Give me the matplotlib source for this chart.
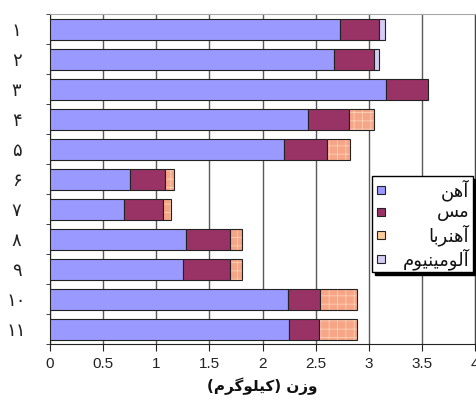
import numpy as np
import matplotlib.pyplot as plt
from matplotlib.patches import Rectangle

plt.rcParams['font.family'] = ['Liberation Sans', 'DejaVu Sans']
plt.rcParams['hatch.linewidth'] = 0.6

# وزن اجزای هر نمونه (کیلوگرم) - آهن، مس، آهنربا، آلومینیوم
samples = ['\u06F1', '\u06F2', '\u06F3', '\u06F4', '\u06F5', '\u06F6',
           '\u06F7', '\u06F8', '\u06F9', '\u06F1\u06F0', '\u06F1\u06F1']
iron = [2.73, 2.67, 3.16, 2.43, 2.20, 0.75, 0.70, 1.28, 1.25, 2.24, 2.25]
copper = [0.37, 0.38, 0.40, 0.38, 0.41, 0.33, 0.36, 0.41, 0.44, 0.30, 0.28]
magnet = [0.00, 0.00, 0.00, 0.24, 0.21, 0.09, 0.08, 0.12, 0.12, 0.35, 0.36]
alum = [0.05, 0.05, 0.00, 0.00, 0.00, 0.00, 0.00, 0.00, 0.00, 0.00, 0.00]

# persian labels, pre-shaped (presentation forms, visual order)
lbl_iron = '\uFEE6\uFEEB\uFE81'
lbl_copper = '\uFEB2\uFEE3'
lbl_magnet = '\uFE8E\uFE91\uFEAE\uFEE8\uFEEB\uFE81'
lbl_alum = '\uFEE1\uFEEE\uFEF4\uFEE8\uFEF4\uFEE3\uFEEE\uFEDF\uFE81'
xlabel = '(\uFEE1\uFEAE\uFB94\uFEEE\uFEE0\uFEF4\uFB90) \uFEE5\uFEAF\uFEED'
xticks = np.arange(0, 4.01, 0.5)

c_iron, c_cu, c_mag, c_al = '#9999FF', '#993366', '#F6A686', '#D4CCF2'
edge = '#222222'

fig = plt.figure(figsize=(4.76, 4.05), dpi=100)
ax = fig.add_axes([50/476, 1-344/405, 425/476, 330/405])

y = np.arange(len(samples))
h = 0.7
left = np.zeros(len(samples))
ax.barh(y, iron, h, left=left, color=c_iron, edgecolor=edge, lw=0.8, zorder=3)
left += iron
ax.barh(y, copper, h, left=left, color=c_cu, edgecolor=edge, lw=0.8, zorder=3)
left += copper
m = np.array(magnet) > 0
ax.barh(y[m], np.array(magnet)[m], h, left=left[m], color=c_mag,
        edgecolor='#FBD0B8', lw=0, hatch='++', zorder=3)
ax.barh(y[m], np.array(magnet)[m], h, left=left[m], facecolor='none',
        edgecolor=edge, lw=0.8, zorder=4)
left += magnet
a = np.array(alum) > 0
ax.barh(y[a], np.array(alum)[a], h, left=left[a], color=c_al,
        edgecolor=edge, lw=0.8, zorder=3)

ax.set_xlim(0, 4)
ax.set_ylim(10.5, -0.5)
ax.set_xticks(xticks)
ax.set_xticklabels(['0', '0.5', '1', '1.5', '2', '2.5', '3', '3.5', '4'])
ax.set_yticks(y)
ax.set_yticklabels(samples, family=['DejaVu Sans'], fontsize=13, color='#222')
ax.set_yticks(np.arange(-0.5, 11, 1), minor=True)
ax.tick_params(axis='y', which='major', length=0, pad=24)
ax.tick_params(axis='y', which='minor', length=3, direction='out', color='#222')
for t in ax.get_yticklabels():
    t.set_ha('center')
ax.tick_params(axis='x', length=5, direction='out', color='#222',
               labelsize=11, labelcolor='#222', pad=4)

ax.set_axisbelow(True)
ax.grid(axis='x', color='#5a5a5a', lw=1)
for s in ['left', 'bottom']:
    ax.spines[s].set_color('#222')
ax.spines['top'].set_color('#a8a8a8')
ax.spines['right'].set_color('#444')

ax.set_xlabel(xlabel, family=['DejaVu Sans'], fontsize=11, fontweight='bold',
              labelpad=5, color='#111')

# legend box with shadow, drawn in pixel space
ov = fig.add_axes([0, 0, 1, 1])
ov.set_xlim(0, 476)
ov.set_ylim(405, 0)
ov.axis('off')
ov.add_patch(Rectangle((375, 179), 101, 96, color='black', zorder=1))
ov.add_patch(Rectangle((372, 176), 101, 96, facecolor='white',
                       edgecolor='black', lw=1, zorder=2))
items = [(c_iron, lbl_iron, 190), ('#993366', lbl_copper, 212),
         ('#FFCC99', lbl_magnet, 235), (c_al, lbl_alum, 259)]
for col, txt, yc in items:
    ov.add_patch(Rectangle((377, yc - 4), 8, 8, facecolor=col,
                           edgecolor='#222', lw=0.8, zorder=3))
    ov.text(469, yc, txt, ha='right', va='center', fontsize=13,
            family=['DejaVu Sans'], color='#111', zorder=3)

fig.savefig('out.png', dpi=100)
